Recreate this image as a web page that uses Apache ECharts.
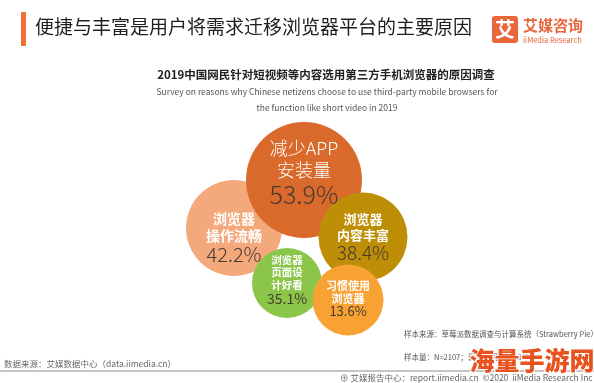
<!DOCTYPE html>
<html>
<head>
<meta charset="utf-8">
<style>
html,body{margin:0;padding:0;background:#fff;}
#chart{width:594px;height:383px;}
</style>
<script src="https://cdn.jsdelivr.net/npm/echarts@6/dist/echarts.min.js"></script>
</head>
<body>
<div id="chart"></div>
<script>
// ---- data ----
const categories = ['浏览器操作流畅', '减少APP安装量', '浏览器内容丰富', '浏览器页面设计好看', '习惯使用浏览器'];
const values = [42.2, 53.9, 38.4, 35.1, 13.6];
const labelLines = [
  ['浏览器', '操作流畅'],
  ['减少APP', '安装量'],
  ['浏览器', '内容丰富'],
  ['浏览器', '页面设', '计好看'],
  ['习惯使用', '浏览器']
];

// ---- layout (pixel space of hidden axes) ----
const centers = [[234, 228], [304, 180], [363, 237], [287, 283], [348, 300]];
const radii = [48, 58, 44.5, 35, 35.5];
const colors = ['#F4A97C', '#D96A2B', '#BE8E06', '#8BC64A', '#F7A233'];
const labelStyles = [
  { n: { fontSize: 14, lineHeight: 17, fontWeight: 'bold' }, v: { fontSize: 20, lineHeight: 20, fontWeight: 300 }, dy: 9 },
  { n: { fontSize: 18, lineHeight: 22, fontWeight: 300 }, v: { fontSize: 25, lineHeight: 26, fontWeight: 300 }, dy: -8 },
  { n: { fontSize: 13, lineHeight: 16, fontWeight: 'bold' }, v: { fontSize: 19, lineHeight: 19, fontWeight: 300 }, dy: 0 },
  { n: { fontSize: 10.5, lineHeight: 12.5, fontWeight: 'bold' }, v: { fontSize: 14, lineHeight: 15, fontWeight: 'normal' }, dy: -3 },
  { n: { fontSize: 11, lineHeight: 12.5, fontWeight: 'bold' }, v: { fontSize: 13, lineHeight: 13, fontWeight: 'normal' }, dy: -1 }
];

const FONT = '"Noto Sans CJK SC", "Noto Sans", sans-serif';

const seriesData = categories.map((name, i) => {
  const st = labelStyles[i];
  return {
    name: name,
    value: [centers[i][0], centers[i][1], values[i]],
    symbolSize: radii[i] * 2,
    itemStyle: { color: colors[i], opacity: 1 },
    label: {
      show: true,
      position: 'inside',
      offset: [0, st.dy],
      formatter: labelLines[i].map(l => '{n|' + l + '}').join('\n') + '\n{v|' + values[i].toFixed(1) + '%}',
      rich: {
        n: Object.assign({ color: '#ffffff', fontFamily: FONT, align: 'center' }, st.n),
        v: Object.assign({ color: '#463a32', fontFamily: FONT, align: 'center' }, st.v)
      }
    }
  };
});

const chart = echarts.init(document.getElementById('chart'), null, { renderer: 'canvas' });

const option = {
  backgroundColor: '#ffffff',
  animation: false,
  grid: { left: 0, right: 0, top: 0, bottom: 0 },
  xAxis: { type: 'value', min: 0, max: 594, show: false },
  yAxis: { type: 'value', min: 0, max: 383, inverse: true, show: false },
  series: [{
    type: 'scatter',
    symbol: 'circle',
    data: seriesData,
    emphasis: { disabled: true }
  }],
  graphic: [
    // header bar
    { type: 'rect', shape: { x: 21, y: 12, width: 5, height: 34 }, style: { fill: '#F07035' } },
    { type: 'text', x: 35, y: 27, style: { text: '便捷与丰富是用户将需求迁移浏览器平台的主要原因', fontFamily: FONT, fontSize: 19, fill: '#1f1f1f', textVerticalAlign: 'middle' } },
    // logo
    { type: 'rect', shape: { x: 492, y: 16, width: 26, height: 27, r: 3 }, style: { fill: '#E8663A' } },
    { type: 'text', x: 505, y: 29.5, style: { text: '艾', fontFamily: FONT, fontSize: 20, fontWeight: 'bold', fill: '#fff', textAlign: 'center', textVerticalAlign: 'middle' } },
    { type: 'text', x: 523, y: 25, style: { text: '艾媒咨询', fontFamily: FONT, fontSize: 15, fontWeight: 'bold', fill: '#E8663A', textVerticalAlign: 'middle' } },
    { type: 'text', x: 523, y: 40, style: { text: 'iiMedia Research', fontFamily: FONT, fontSize: 7.5, fill: '#E8663A', textVerticalAlign: 'middle' } },
    // chart titles
    { type: 'text', x: 326, y: 75, style: { text: '2019中国网民针对短视频等内容选用第三方手机浏览器的原因调查', fontFamily: FONT, fontSize: 11.5, fontWeight: 'bold', fill: '#222', textAlign: 'center', textVerticalAlign: 'middle' } },
    { type: 'text', x: 327, y: 92, style: { text: 'Survey on reasons why Chinese netizens choose to use third-party mobile browsers for', fontFamily: FONT, fontSize: 8.5, fill: '#555', textAlign: 'center', textVerticalAlign: 'middle' } },
    { type: 'text', x: 327, y: 108, style: { text: 'the function like short video in 2019', fontFamily: FONT, fontSize: 8.5, fill: '#555', textAlign: 'center', textVerticalAlign: 'middle' } },
    // footer
    { type: 'text', x: 4, y: 364, style: { text: '数据来源：艾媒数据中心（data.iimedia.cn）', fontFamily: FONT, fontSize: 8.5, fill: '#666', textVerticalAlign: 'middle' } },
    { type: 'text', x: 404, y: 334, style: { text: '样本来源：草莓派数据调查与计算系统（Strawberry Pie）', fontFamily: FONT, fontSize: 7.5, fill: '#555', textVerticalAlign: 'middle' } },
    { type: 'text', x: 404, y: 357, style: { text: '样本量：N=2107；调研时间：2019年', fontFamily: FONT, fontSize: 7.5, fill: '#555', textVerticalAlign: 'middle' } },
    { type: 'line', shape: { x1: 0, y1: 371, x2: 594, y2: 371 }, style: { stroke: '#8a8a8a', lineWidth: 1 } },
    { type: 'text', x: 340, y: 378, style: { text: '⊕ 艾媒报告中心：report.iimedia.cn  ©2020  iiMedia Research Inc', fontFamily: FONT, fontSize: 8.5, fill: '#666', textVerticalAlign: 'middle' } },
    // watermark
    { type: 'text', x: 532, y: 360, z: 100, style: { text: '海量手游网', fontFamily: FONT, fontSize: 25, fontWeight: 900, fill: '#E8521E', stroke: '#ffffff', lineWidth: 2, textAlign: 'center', textVerticalAlign: 'middle' } }
  ]
};

chart.setOption(option);
</script>
</body>
</html>
